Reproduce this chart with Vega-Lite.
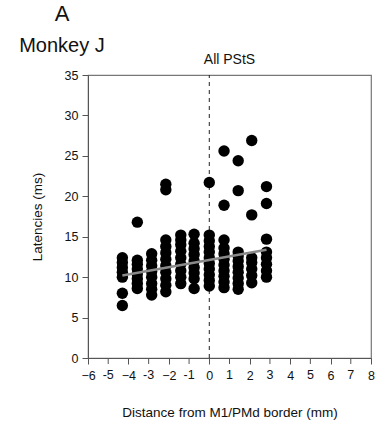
{
  "$schema": "https://vega.github.io/schema/vega-lite/v6.json",
  "autosize": "none",
  "width": 283,
  "height": 283,
  "padding": {"left": 88, "top": 75, "right": 7, "bottom": 71},
  "background": "white",
  "config": {
    "font": "Liberation Sans",
    "view": {"stroke": "#777", "strokeWidth": 1.2},
    "axis": {"grid": false, "domainColor": "#555", "tickColor": "#555", "labelColor": "#111", "titleColor": "#111", "labelFont": "Liberation Sans", "titleFont": "Liberation Sans", "titleFontWeight": "normal", "labelFontSize": 12.5, "titleFontSize": 13.5, "tickSize": 6, "labelOverlap": false}
  },
  "title": {"text": "A", "subtitle": "Monkey J", "anchor": "start", "frame": "group", "align": "center", "dx": -26, "offset": -4, "fontSize": 22, "subtitleFontSize": 20, "subtitlePadding": 10, "fontWeight": "normal", "font": "Liberation Sans", "subtitleFont": "Liberation Sans", "color": "#111", "subtitleColor": "#111"},
  "datasets": {
    "pts": [
      {"d": -4.3, "lat": 6.5}, {"d": -4.3, "lat": 8.0}, {"d": -4.3, "lat": 10.0}, {"d": -4.3, "lat": 10.6}, {"d": -4.3, "lat": 11.2}, {"d": -4.3, "lat": 11.8}, {"d": -4.3, "lat": 12.4},
      {"d": -3.56, "lat": 8.6}, {"d": -3.56, "lat": 9.2}, {"d": -3.56, "lat": 9.8}, {"d": -3.56, "lat": 10.4}, {"d": -3.56, "lat": 11.0}, {"d": -3.56, "lat": 11.6}, {"d": -3.56, "lat": 12.1}, {"d": -3.56, "lat": 16.8},
      {"d": -2.85, "lat": 7.8}, {"d": -2.85, "lat": 8.5}, {"d": -2.85, "lat": 9.2}, {"d": -2.85, "lat": 10.0}, {"d": -2.85, "lat": 10.7}, {"d": -2.85, "lat": 11.4}, {"d": -2.85, "lat": 12.1}, {"d": -2.85, "lat": 12.9},
      {"d": -2.15, "lat": 8.2}, {"d": -2.15, "lat": 9.0}, {"d": -2.15, "lat": 9.8}, {"d": -2.15, "lat": 10.6}, {"d": -2.15, "lat": 11.4}, {"d": -2.15, "lat": 12.2}, {"d": -2.15, "lat": 13.0}, {"d": -2.15, "lat": 13.8}, {"d": -2.15, "lat": 14.6}, {"d": -2.15, "lat": 20.8}, {"d": -2.15, "lat": 21.5},
      {"d": -1.41, "lat": 9.2}, {"d": -1.41, "lat": 10.0}, {"d": -1.41, "lat": 10.8}, {"d": -1.41, "lat": 11.6}, {"d": -1.41, "lat": 12.4}, {"d": -1.41, "lat": 13.2}, {"d": -1.41, "lat": 14.0}, {"d": -1.41, "lat": 14.6}, {"d": -1.41, "lat": 15.2},
      {"d": -0.75, "lat": 8.6}, {"d": -0.75, "lat": 9.8}, {"d": -0.75, "lat": 10.5}, {"d": -0.75, "lat": 11.2}, {"d": -0.75, "lat": 12.0}, {"d": -0.75, "lat": 12.8}, {"d": -0.75, "lat": 13.5}, {"d": -0.75, "lat": 14.2}, {"d": -0.75, "lat": 15.3},
      {"d": 0, "lat": 8.9}, {"d": 0, "lat": 9.6}, {"d": 0, "lat": 10.3}, {"d": 0, "lat": 11.0}, {"d": 0, "lat": 11.7}, {"d": 0, "lat": 12.4}, {"d": 0, "lat": 13.1}, {"d": 0, "lat": 13.8}, {"d": 0, "lat": 14.5}, {"d": 0, "lat": 15.2}, {"d": 0, "lat": 21.7},
      {"d": 0.73, "lat": 8.7}, {"d": 0.73, "lat": 9.4}, {"d": 0.73, "lat": 10.1}, {"d": 0.73, "lat": 10.8}, {"d": 0.73, "lat": 11.5}, {"d": 0.73, "lat": 12.2}, {"d": 0.73, "lat": 12.9}, {"d": 0.73, "lat": 13.6}, {"d": 0.73, "lat": 14.6}, {"d": 0.73, "lat": 18.9}, {"d": 0.73, "lat": 25.6},
      {"d": 1.43, "lat": 8.5}, {"d": 1.43, "lat": 9.2}, {"d": 1.43, "lat": 9.9}, {"d": 1.43, "lat": 10.6}, {"d": 1.43, "lat": 11.3}, {"d": 1.43, "lat": 12.0}, {"d": 1.43, "lat": 12.6}, {"d": 1.43, "lat": 13.1}, {"d": 1.43, "lat": 20.7}, {"d": 1.43, "lat": 24.4},
      {"d": 2.1, "lat": 9.3}, {"d": 2.1, "lat": 10.2}, {"d": 2.1, "lat": 11.0}, {"d": 2.1, "lat": 11.8}, {"d": 2.1, "lat": 12.4}, {"d": 2.1, "lat": 17.7}, {"d": 2.1, "lat": 26.9},
      {"d": 2.83, "lat": 10.0}, {"d": 2.83, "lat": 10.8}, {"d": 2.83, "lat": 11.6}, {"d": 2.83, "lat": 12.4}, {"d": 2.83, "lat": 13.1}, {"d": 2.83, "lat": 14.7}, {"d": 2.83, "lat": 19.1}, {"d": 2.83, "lat": 21.2}
    ],
    "fit": [{"d": -4.3, "lat": 10.2}, {"d": 2.83, "lat": 13.4}],
    "border": [{"d": 0, "lat": 0, "lat2": 35}],
    "heading": [{"d": 1.0, "lat": 35, "label": "All PStS"}],
    "oddticks": [
      {"d": -5, "lat": 0, "lat2": -0.74, "label": "-5"},
      {"d": -3, "lat": 0, "lat2": -0.74, "label": "-3"},
      {"d": -1, "lat": 0, "lat2": -0.74, "label": "-1"},
      {"d": 1, "lat": 0, "lat2": -0.74, "label": "1"},
      {"d": 3, "lat": 0, "lat2": -0.74, "label": "3"},
      {"d": 5, "lat": 0, "lat2": -0.74, "label": "5"},
      {"d": 7, "lat": 0, "lat2": -0.74, "label": "7"}
    ]
  },
  "encoding": {
    "x": {"field": "d", "type": "quantitative", "scale": {"domain": [-6, 8], "nice": false},
      "axis": {"title": "Distance from M1/PMd border (mm)", "values": [-6,-4,-2,0,2,4,6,8], "labelPadding": 5, "titlePadding": 24, "labelFlush": false, "labelOverlap": false}},
    "y": {"field": "lat", "type": "quantitative", "scale": {"domain": [0, 35], "nice": false},
      "axis": {"title": "Latencies (ms)", "values": [0,5,10,15,20,25,30,35], "labelPadding": 4, "titlePadding": 20}}
  },
  "layer": [
    {
      "data": {"name": "border"},
      "mark": {"type": "rule", "color": "#222", "strokeDash": [4, 4], "strokeWidth": 1},
      "encoding": {"y2": {"field": "lat2"}}
    },
    {
      "data": {"name": "pts"},
      "mark": {"type": "circle", "size": 130, "color": "black", "opacity": 1}
    },
    {
      "data": {"name": "fit"},
      "mark": {"type": "line", "color": "#8a8a8a", "strokeWidth": 2.5},
      "encoding": {}
    },
    {
      "data": {"name": "heading"},
      "mark": {"type": "text", "fontSize": 14, "color": "#111", "dy": -15, "baseline": "middle", "font": "Liberation Sans"},
      "encoding": {"text": {"field": "label"}}
    },
    {
      "data": {"name": "oddticks"},
      "mark": {"type": "rule", "color": "#555", "strokeWidth": 1, "clip": false},
      "encoding": {"y2": {"field": "lat2"}}
    },
    {
      "data": {"name": "oddticks"},
      "mark": {"type": "text", "fontSize": 12.5, "color": "#111", "baseline": "top", "dy": 11, "font": "Liberation Sans", "clip": false},
      "encoding": {"text": {"field": "label"}}
    }
  ]
}
